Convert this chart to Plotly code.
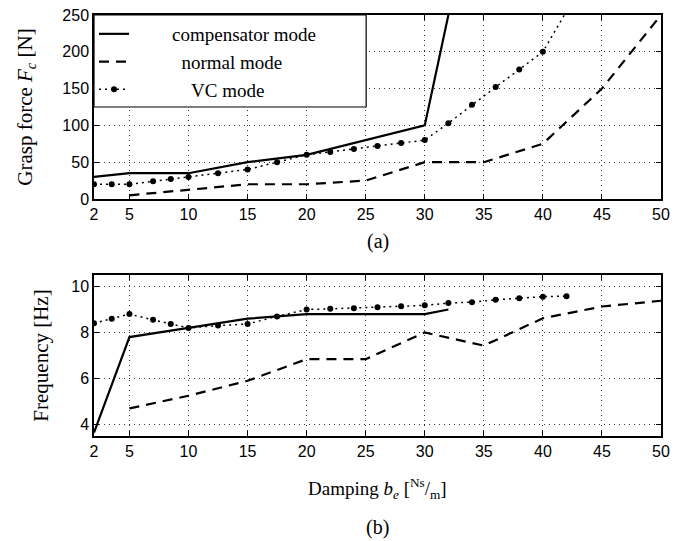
import plotly.graph_objects as go

# ---- data ----
comp_x = [2, 5, 10, 15, 20, 25, 30, 32]
comp_force = [30, 35, 35, 50, 60, 80, 100, 250]
comp_freq = [3.65, 7.8, 8.2, 8.6, 8.8, 8.8, 8.8, 9.0]

normal_x = [5, 10, 15, 20, 25, 30, 35, 40, 45, 50]
normal_force = [5, 12, 20, 20, 25, 50, 50, 75, 150, 250]
normal_freq = [4.7, 5.25, 5.9, 6.84, 6.84, 8.0, 7.43, 8.62, 9.13, 9.38]

vc_x = [2, 3.5, 5, 7, 8.5, 10, 12.5, 15, 17.5, 20, 22, 24, 26, 28, 30, 32, 34, 36, 38, 40, 42]
vc_force = [20, 20, 20, 24, 27, 30, 35, 40, 50, 60, 64, 68, 72, 76, 80, 103, 128, 152, 176, 200, 255]
vc_freq = [8.4, 8.6, 8.8, 8.55, 8.37, 8.2, 8.3, 8.37, 8.7, 9.0, 9.03, 9.06, 9.1, 9.14, 9.18,
           9.28, 9.32, 9.42, 9.49, 9.56, 9.58]

x_ticks = [2, 5, 10, 15, 20, 25, 30, 35, 40, 45, 50]
force_ticks = [0, 50, 100, 150, 200, 250]
freq_ticks = [4, 6, 8, 10]

NB = "\u00a0"
names = [NB * 8 + "compensator mode", NB * 10 + "normal mode", NB * 12 + "VC mode"]

fig = go.Figure()

styles = [
    dict(color="black", width=2.2, dash="solid"),
    dict(color="black", width=2.2, dash="10px,7px"),
    dict(color="black", width=1.5, dash="2px,4px"),
]

fig.add_trace(go.Scatter(x=comp_x, y=comp_force, mode="lines", line=styles[0], name=names[0],
                         xaxis="x", yaxis="y"))
fig.add_trace(go.Scatter(x=normal_x, y=normal_force, mode="lines", line=styles[1], name=names[1],
                         xaxis="x", yaxis="y"))
fig.add_trace(go.Scatter(x=vc_x, y=vc_force, mode="lines+markers", line=styles[2],
                         marker=dict(color="black", size=6), name=names[2],
                         xaxis="x", yaxis="y"))

fig.add_trace(go.Scatter(x=comp_x, y=comp_freq, mode="lines", line=styles[0], showlegend=False,
                         xaxis="x2", yaxis="y2"))
fig.add_trace(go.Scatter(x=normal_x, y=normal_freq, mode="lines", line=styles[1], showlegend=False,
                         xaxis="x2", yaxis="y2"))
fig.add_trace(go.Scatter(x=vc_x, y=vc_freq, mode="lines+markers", line=styles[2],
                         marker=dict(color="black", size=6), showlegend=False,
                         xaxis="x2", yaxis="y2"))

tickfont = dict(family="Liberation Sans, Arial, sans-serif", size=16, color="black")
serif = "Liberation Serif, Times New Roman, serif"

grid = dict(showgrid=True, gridcolor="#333", griddash="1px,4px", gridwidth=1)
common_x = dict(range=[2, 50], tickmode="array", tickvals=x_ticks, ticks="inside", ticklen=5,
                showline=True, linecolor="black", linewidth=1.5, mirror="ticks",
                zeroline=False, tickfont=tickfont, tickcolor="black", automargin=False,
                ticklabeloverflow="allow", **grid)
common_y = dict(ticks="inside", ticklen=5, showline=True, linecolor="black", linewidth=1.5,
                mirror="ticks", zeroline=False, tickfont=tickfont, tickcolor="black",
                tickmode="array", automargin=False, ticklabeloverflow="allow", **grid)

# page has an 8px body margin: figure is 681x533 placed at (8,8)
fig.update_layout(
    width=681, height=533,
    margin=dict(l=86, r=28, t=7, b=105),
    paper_bgcolor="white", plot_bgcolor="white",
    xaxis=dict(domain=[0, 1], anchor="y", **common_x),
    yaxis=dict(domain=[0.563, 1], anchor="x", range=[0, 250], tickvals=force_ticks,
               title=dict(text="Grasp force <i>F<sub>c</sub></i> [N]",
                          font=dict(family=serif, size=21, color="black"), standoff=24),
               **common_y),
    xaxis2=dict(domain=[0, 1], anchor="y2", **common_x),
    yaxis2=dict(domain=[0, 0.3824], anchor="x2", range=[3.5, 10.5], tickvals=freq_ticks,
                title=dict(text="Frequency [Hz]",
                           font=dict(family=serif, size=21, color="black"), standoff=17),
                **common_y),
    legend=dict(x=0, y=1, xanchor="left", yanchor="top", bgcolor="rgba(0,0,0,0)",
                borderwidth=0,
                font=dict(family=serif, size=19, color="black"),
                tracegroupgap=0),
    showlegend=True,
    # legend frame (white box with black border) in the upper-left of panel (a)
    shapes=[dict(type="rect", xref="x domain", yref="y domain", x0=0, x1=0.48, y0=0.5, y1=1,
                 fillcolor="white", line=dict(color="black", width=1.2), layer="above")],
    annotations=[
        dict(text="(a)", x=0.5, y=0.463, xref="paper", yref="paper", showarrow=False,
             yanchor="middle", font=dict(family=serif, size=20, color="black")),
        dict(text="Damping <i>b<sub>e</sub></i> [<sup>Ns</sup>/<sub>m</sub>]", x=0.5, y=-0.125,
             xref="paper", yref="paper", showarrow=False, yanchor="middle",
             font=dict(family=serif, size=19, color="black")),
        dict(text="(b)", x=0.5, y=-0.218, xref="paper", yref="paper", showarrow=False,
             yanchor="middle", font=dict(family=serif, size=20, color="black")),
    ],
)

fig.write_html("out.html")
